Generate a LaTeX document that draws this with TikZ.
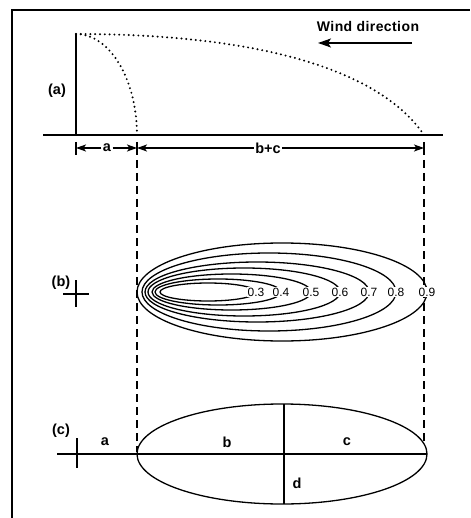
\documentclass[tikz,border=0pt]{standalone}
\usepackage{fontspec}
\setmainfont{Liberation Sans}
\usetikzlibrary{arrows.meta}
\begin{document}
\begin{tikzpicture}[x=1pt,y=-1pt,
  lbl/.style={font=\fontsize{14.5}{16}\selectfont\bfseries, inner sep=1.5pt},
  num/.style={font=\fontsize{12}{14}\selectfont, fill=white, inner sep=0.5pt},
  thinline/.style={line width=1.3pt},
  dots/.style={line width=2.2pt, dash pattern=on 0pt off 4.8pt, line cap=round},
  guide/.style={line width=1.2pt, dash pattern=on 8pt off 5pt},
  dimarrow/.style={line width=1.2pt, -{Stealth[length=10pt,width=7pt,inset=2.5pt]}}
]
\useasboundingbox (0,0) rectangle (470,518);
\fill[white] (0,0) rectangle (470,518);
% frame
\draw[line width=2.4pt] (12,518) -- (12,10) -- (470,10);

% ---------- panel (a)
\coordinate (src) at (76,34);
\coordinate (base) at (76,135);
\coordinate (gl) at (43,135);
\coordinate (gr) at (443,135);
\coordinate (near) at (137,135);
\coordinate (far) at (424,135);
\draw[line width=1.4pt] (gl) -- (gr);
\draw[line width=2.8pt] (base) -- (src);
\draw[dots] (src) .. controls (110,34) and (137,80) .. (near);
\draw[dots] (src) .. controls (260,34) and (380,70) .. (far);
\node[lbl] (la) at (57,91) {(a)};
\node[font=\fontsize{14}{16}\selectfont\bfseries\addfontfeatures{LetterSpace=3}] (wind) at (368,27) {Wind direction};
\coordinate (w1) at (412,43);
\coordinate (w2) at (318,43);
\draw[line width=1.4pt, -{Stealth[length=13pt,width=9pt,inset=3pt]}] (w1) -- (w2);

% dimension line
\coordinate (t1) at (76,148);
\coordinate (t2) at (137,148);
\coordinate (t3) at (424,148);
\draw[thinline] (76,142) -- (76,155);
\draw[thinline] (137,142) -- (137,155);
\draw[thinline] (424,142) -- (424,155);
\node[lbl, fill=white] (da) at (107,148) {a};
\node[lbl, fill=white] (dbc) at (268,148) {b+c};
\draw[dimarrow] (da) -- (t1);
\draw[dimarrow] (da) -- (t2);
\draw[dimarrow] (dbc) -- (t2);
\draw[dimarrow] (dbc) -- (t3);

% dashed guides
\coordinate (g1a) at (137,160);
\coordinate (g1b) at (137,452);
\coordinate (g2a) at (424,160);
\coordinate (g2b) at (424,442);
\draw[guide] (g1a) -- (g1b);
\draw[guide] (g2a) -- (g2b);

% ---------- panel (b)
\node[lbl] (lb) at (61,283) {(b)};
\draw[thinline] (63,294) -- (89,294);
\draw[thinline] (76,280) -- (76,307);
\foreach \cx/\rx/\ry/\v in {208/48/9/0.3, 218/63/13/0.4, 231.5/79.5/18/0.5, 244/96/24/0.6, 257/112/30/0.7, 269/127/39/0.8, 282/145/49/0.9}{
  \draw[thinline] (\cx,292) ellipse [x radius=\rx pt, y radius=\ry pt];
}
\foreach \cx/\rx/\v in {208/48/0.3, 218/63/0.4, 231.5/79.5/0.5, 244/96/0.6, 257/112/0.7, 269/127/0.8, 282/145/0.9}{
  \node[num] (n\v) at (\cx+\rx,292) {\v};
}

% ---------- panel (c)
\node[lbl] (lc) at (61,431) {(c)};
\coordinate (ax1) at (57,454);
\coordinate (ax2) at (427,454);
\draw[thinline] (ax1) -- (ax2);
\draw[thinline] (77,438) -- (77,468);
\draw[thinline] (282,454) ellipse [x radius=145pt, y radius=50pt];
\coordinate (vt) at (284,404);
\coordinate (vb) at (284,504);
\draw[thinline] (vt) -- (vb);
\node[lbl] (ca) at (105,442) {a};
\node[lbl] (cb) at (227,442) {b};
\node[lbl] (cc) at (347,442) {c};
\node[lbl] (cd) at (297,483) {d};
\end{tikzpicture}
\end{document}
